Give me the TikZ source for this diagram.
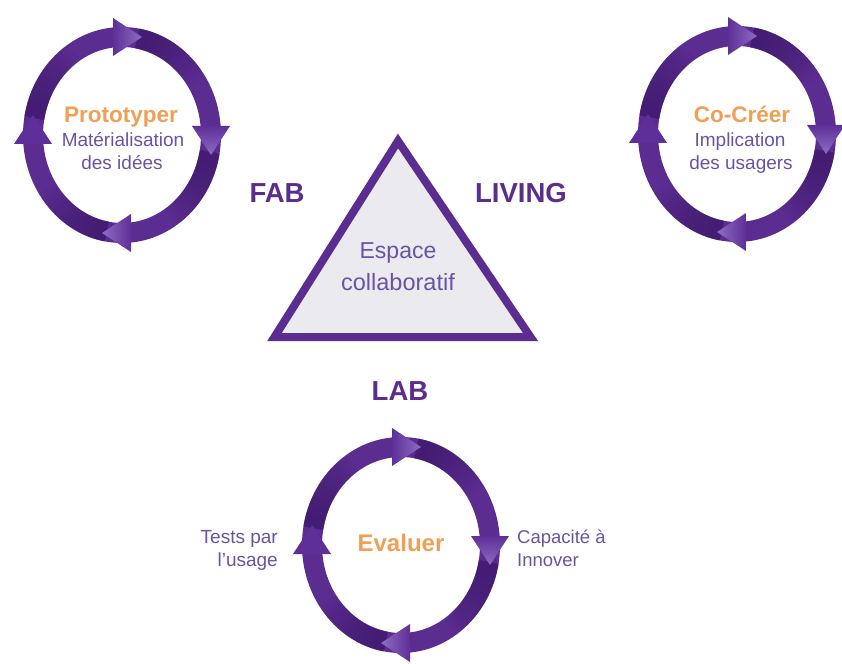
\documentclass[tikz,border=0pt]{standalone}
\usepackage{fontspec}
\setmainfont{Liberation Sans}
\definecolor{ringc}{HTML}{5C2D91}
\definecolor{ringdk}{HTML}{3E1A6A}
\definecolor{arrD}{HTML}{5E2F98}
\definecolor{arrL}{HTML}{8E6CC4}
\definecolor{labc}{HTML}{5B2E8C}
\definecolor{txtc}{HTML}{6A54A2}
\definecolor{orng}{HTML}{EFA055}
\definecolor{trif}{HTML}{EBEAEE}
\tikzset{
  ring/.style={draw=ringc, line width=20pt},
  darkarc/.style={draw=ringdk, line width=20pt, draw opacity=0.075},
  title/.style={anchor=base, text=orng, font=\fontsize{22.5}{26}\selectfont\bfseries, inner sep=0pt},
  sub/.style={anchor=base, text=txtc, font=\fontsize{19}{23}\selectfont, inner sep=0pt},
  biglab/.style={anchor=base, text=labc, font=\fontsize{27.5}{31}\selectfont\bfseries, inner sep=0pt},
  cyclering/.pic={
    \draw[ring] (0,0) ellipse [x radius=89, y radius=98];
    \foreach \b in {-90,0,90,180}{
      \foreach \e in {18,21,...,57}{
        \draw[darkarc] ({89*cos(\b+10)},{98*sin(\b+10)})
          arc [start angle=\b+10, end angle=\b+\e, x radius=89, y radius=98];
      }
    }
    \shade[left color=arrD, right color=arrL] (-9,-117) -- (20,-98) -- (-9,-79) -- cycle;
    \shade[top color=arrD, bottom color=arrL] (70,-9) -- (89,20) -- (108,-9) -- cycle;
    \shade[right color=arrD, left color=arrL] (9,79) -- (-20,98) -- (9,117) -- cycle;
    \fill[arrD] (-108,9) -- (-89,-20) -- (-70,9) -- cycle;
  }
}
\begin{document}
\begin{tikzpicture}[x=1pt,y=-1pt]
\useasboundingbox (0,0) rectangle (842,663);
\fill[white] (0,0) rectangle (842,663);

% cycles
\pic (c1) at (122,135) {cyclering};
\pic (c2) at (737,134) {cyclering};
\pic (c3) at (401,545) {cyclering};

% triangle
\filldraw[fill=trif, draw=ringc, line width=8pt, line join=miter]
  (398,141) -- (530.5,337) -- (274.5,337) -- cycle;

% texts top-left
\node[title] (protoT) at (121,123) {Prototyper};
\node[sub] (protoA) at (123,147) {Matérialisation};
\node[sub] (protoB) at (122,170) {des idées};

% texts top-right
\node[title] (cocT) at (742,123) {Co-Créer};
\node[sub] (cocA) at (740,147) {Implication};
\node[sub] (cocB) at (741,170) {des usagers};

% bottom
\node[title, font=\fontsize{24}{28}\selectfont\bfseries] (evalT) at (401,551) {Evaluer};
\node[sub, anchor=base east, font=\fontsize{19}{22}\selectfont] (testsA) at (278,543) {Tests par};
\node[sub, anchor=base east, font=\fontsize{19}{22}\selectfont] (testsB) at (278,566) {l'usage};
\node[sub, anchor=base west, font=\fontsize{18.5}{22}\selectfont] (capA) at (517,543) {Capacité à};
\node[sub, anchor=base west, font=\fontsize{18.5}{22}\selectfont] (capB) at (517,566) {Innover};

% labels
\node[biglab] (fab) at (277,202) {FAB};
\node[biglab] (living) at (521,202) {LIVING};
\node[biglab] (lab) at (400,400) {LAB};

% centre
\node[sub, font=\fontsize{23}{26}\selectfont] (espA) at (398,258) {Espace};
\node[sub, font=\fontsize{23.5}{26}\selectfont] (espB) at (398,290) {collaboratif};
\end{tikzpicture}
\end{document}
